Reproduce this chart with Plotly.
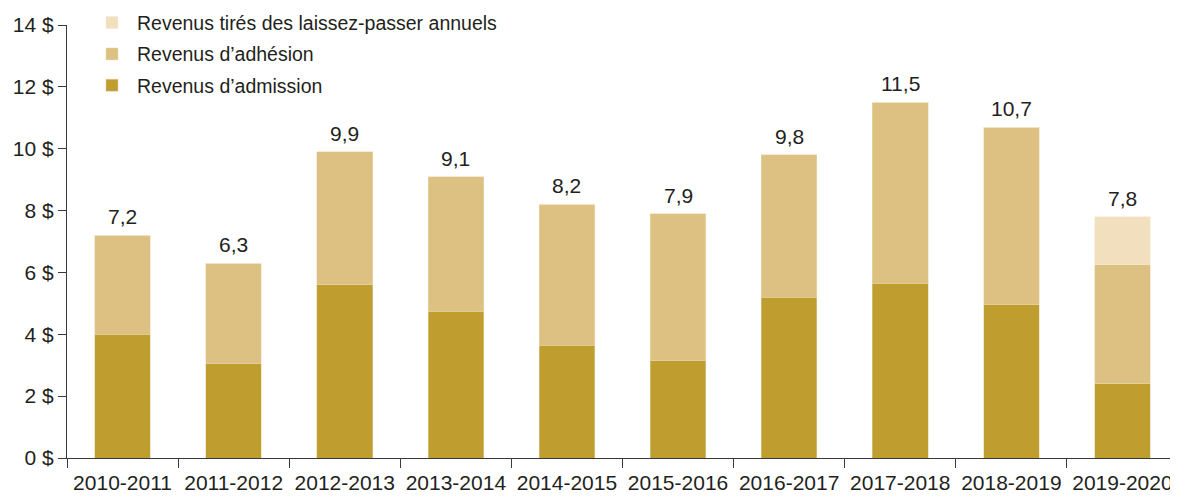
import plotly.graph_objects as go

categories = ["2010-2011", "2011-2012", "2012-2013", "2013-2014", "2014-2015",
              "2015-2016", "2016-2017", "2017-2018", "2018-2019", "2019-2020"]
admission = [4.0, 3.05, 5.6, 4.75, 3.65, 3.15, 5.2, 5.65, 4.95, 2.4]
adhesion = [3.2, 3.25, 4.3, 4.35, 4.55, 4.75, 4.6, 5.85, 5.75, 3.85]
laissez_passer = [0, 0, 0, 0, 0, 0, 0, 0, 0, 1.55]
totals = [7.2, 6.3, 9.9, 9.1, 8.2, 7.9, 9.8, 11.5, 10.7, 7.8]
total_labels = ["7,2", "6,3", "9,9", "9,1", "8,2", "7,9", "9,8", "11,5", "10,7", "7,8"]
y_ticks = [0, 2, 4, 6, 8, 10, 12, 14]
y_tick_labels = ["0 $", "2 $", "4 $", "6 $", "8 $", "10 $", "12 $", "14 $"]

FONT = "Liberation Sans, Arial, sans-serif"
TXT = "#231f20"
AX = "#3a3a3a"

fig = go.Figure()
fig.add_trace(go.Bar(x=categories, y=admission, name="Revenus d\u2019admission",
                     legendrank=3, legendgroup="adm",
                     marker=dict(color="#bf9d2e", line=dict(color="#e6d3a3", width=0.5))))
fig.add_trace(go.Bar(x=categories, y=adhesion, name="Revenus d\u2019adh\u00e9sion",
                     legendrank=2, legendgroup="adh",
                     marker=dict(color="#ddc183", line=dict(color="#ecdcb5", width=0.5))))
fig.add_trace(go.Bar(x=categories, y=laissez_passer, name="Revenus tir\u00e9s des laissez-passer annuels",
                     legendrank=1, legendgroup="lp",
                     marker=dict(color="#f2dfbe", line=dict(color="#f6e9d2", width=0.5))))

for cat, tot, lab in zip(categories, totals, total_labels):
    fig.add_annotation(x=cat, y=tot, text=lab, showarrow=False, yanchor="bottom",
                       yshift=5, font=dict(family=FONT, size=21, color=TXT))

# page body has an 8px default margin: size the figure so the plot lands where the reference has it
fig.update_layout(
    barmode="stack",
    bargap=0.5,
    width=1170, height=490,
    margin=dict(l=59, r=0, t=17, b=40, autoexpand=False),
    plot_bgcolor="white", paper_bgcolor="white",
    font=dict(family=FONT, size=19, color=TXT),
    legend=dict(traceorder="grouped", x=0.018, y=1.05, xanchor="left", yanchor="top",
                bgcolor="rgba(0,0,0,0)", font=dict(size=19.5, color=TXT),
                itemwidth=40, tracegroupgap=3),
    xaxis=dict(showline=True, linecolor=AX, linewidth=1.3, automargin=False,
               ticks="outside", tickson="boundaries", ticklen=9, tickcolor=AX,
               tickwidth=1.3, showgrid=False, ticklabelstandoff=6,
               tickfont=dict(size=21, color=TXT)),
    yaxis=dict(range=[0, 14], tickvals=y_ticks, ticktext=y_tick_labels, showline=True,
               linecolor=AX, linewidth=1.3, ticks="outside", ticklen=8, automargin=False,
               tickcolor=AX, tickwidth=1.3, showgrid=False, zeroline=False,
               tickfont=dict(size=21, color=TXT)),
)

fig.write_html("out.html")
